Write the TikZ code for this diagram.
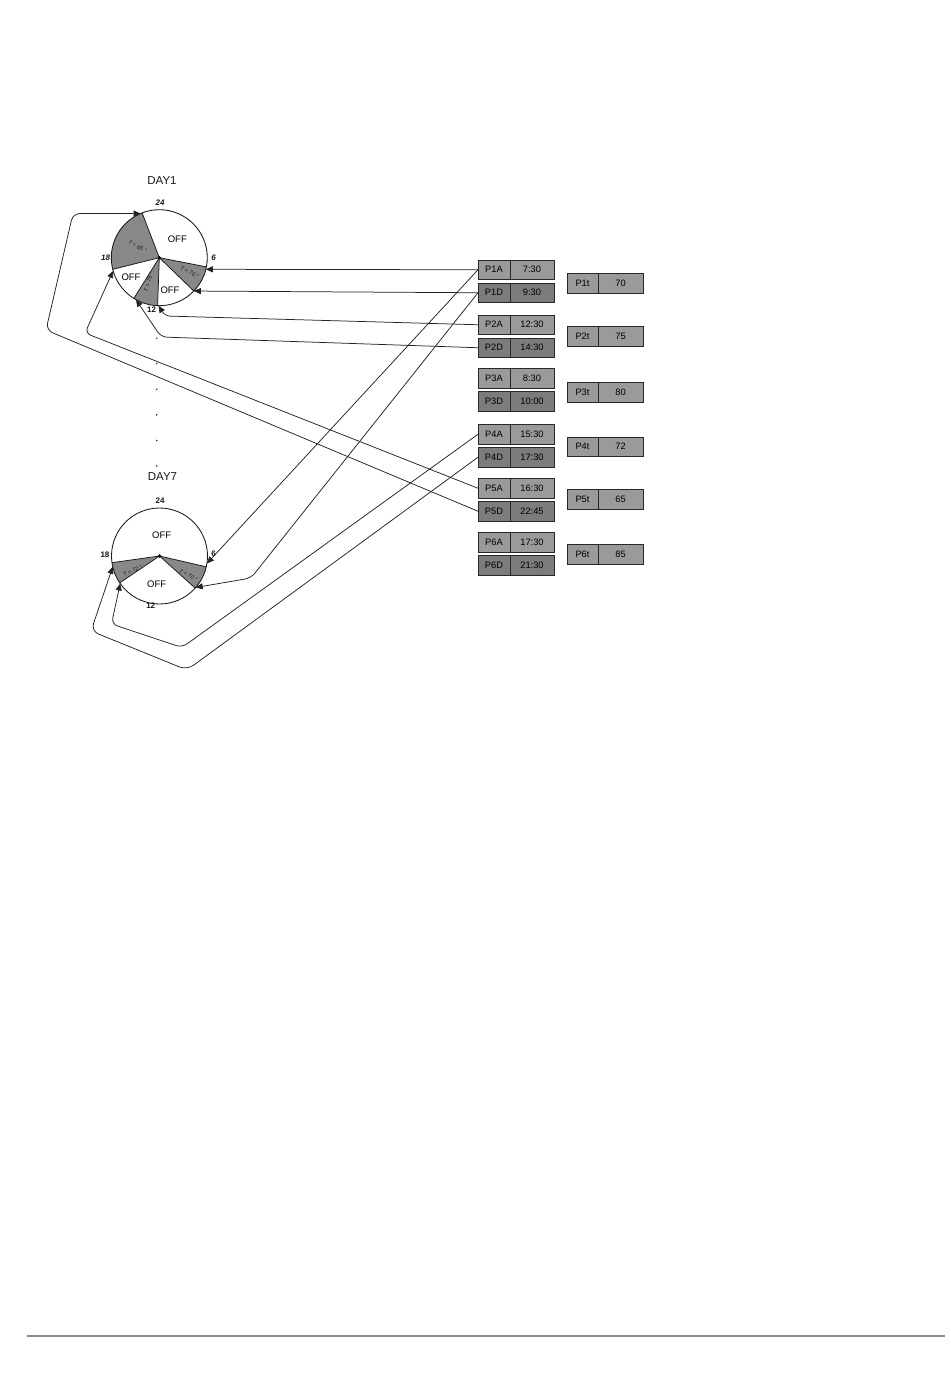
\documentclass[tikz,border=0pt]{standalone}
\usepackage{fontspec}
\setmainfont{Liberation Sans}
\usetikzlibrary{arrows.meta,calc}
\definecolor{boxA}{RGB}{154,154,154}
\definecolor{boxD}{RGB}{124,124,124}
\definecolor{wedgec}{RGB}{136,136,136}
\definecolor{edgec}{RGB}{40,40,40}
\definecolor{linec}{RGB}{35,35,35}
\definecolor{rulec}{RGB}{140,140,140}
\newcommand\mkpair[6]{% name, x, y, key, val, colour
  \node[keyc, fill=#6] (#1) at (#2,#3) {#4};
  \node[valc, fill=#6] (#1v) at ($(#1.north east)$) {#5};}
\newcommand\mktpair[5]{% name, y, key, val, colour
  \node[tkeyc, fill=#5] (#1) at (567,#2) {#3};
  \node[tvalc, fill=#5] (#1v) at ($(#1.north east)$) {#4};}
\begin{document}
\begin{tikzpicture}[x=1pt,y=-1pt,
  cell/.style={draw=edgec, line width=0.9pt, minimum height=19.5pt, inner sep=0pt,
    outer sep=0pt, anchor=north west, font=\fontsize{9.3}{10}\selectfont, text=black},
  keyc/.style={cell, minimum width=32pt},
  valc/.style={cell, minimum width=44pt},
  tkeyc/.style={cell, minimum width=31pt},
  tvalc/.style={cell, minimum width=45pt},
  dial/.style={circle, minimum size=96pt, inner sep=0pt, outer sep=0pt, draw=none},
  wedge/.style={fill=wedgec},
  wedgeedge/.style={draw=black!90, line width=0.75pt},
  rim/.style={draw=black!90, line width=0.85pt},
  offlab/.style={font=\fontsize{9.5}{10}\selectfont, text=black},
  tlab/.style={font=\fontsize{5.6}{6}\selectfont\itshape, text=black!90},
  hourlab/.style={font=\fontsize{8}{9}\selectfont\bfseries\itshape, text=black!90},
  hourup/.style={font=\fontsize{8}{9}\selectfont\bfseries, text=black!90},
  daylab/.style={font=\fontsize{11.5}{13}\selectfont, text=black!90},
  conn/.style={draw=linec, line width=0.75pt, -{Triangle[length=7pt,width=6pt]}},
  dotc/.style={fill=black!80}
]
\useasboundingbox[fill=white] (0,0) rectangle (950,1388);

% ---------- boxes ----------
\mkpair{p1a}{478}{260}{P1A}{7:30}{boxA}
\mkpair{p1d}{478}{283}{P1D}{9:30}{boxD}
\mkpair{p2a}{478}{315}{P2A}{12:30}{boxA}
\mkpair{p2d}{478}{338}{P2D}{14:30}{boxD}
\mkpair{p3a}{478}{368.5}{P3A}{8:30}{boxA}
\mkpair{p3d}{478}{391.5}{P3D}{10:00}{boxD}
\mkpair{p4a}{478}{424.5}{P4A}{15:30}{boxA}
\mkpair{p4d}{478}{447.5}{P4D}{17:30}{boxD}
\mkpair{p5a}{478}{478.5}{P5A}{16:30}{boxA}
\mkpair{p5d}{478}{501.5}{P5D}{22:45}{boxD}
\mkpair{p6a}{478}{532.5}{P6A}{17:30}{boxA}
\mkpair{p6d}{478}{555.5}{P6D}{21:30}{boxD}

\mktpair{p1t}{273.5}{P1t}{70}{boxA}
\mktpair{p2t}{326.5}{P2t}{75}{boxA}
\mktpair{p3t}{382.5}{P3t}{80}{boxA}
\mktpair{p4t}{437}{P4t}{72}{boxA}
\mktpair{p5t}{489.5}{P5t}{65}{boxA}
\mktpair{p6t}{544.5}{P6t}{85}{boxA}

% ---------- DAY1 dial ----------
\node[dial] (d1) at (159.3,257.7) {};
\begin{scope}
  \clip (d1.center) circle[radius=48];
  \fill[wedge] (d1.center) -- ($(d1.center)!2!(d1.194)$) -- ($(d1.center)!2!(d1.111.6)$) -- cycle;
  \fill[wedge] (d1.center) -- ($(d1.center)!2!(d1.-11.9)$) -- ($(d1.center)!2!(d1.-44.4)$) -- cycle;
  \fill[wedge] (d1.center) -- ($(d1.center)!2!(d1.-92.8)$) -- ($(d1.center)!2!(d1.-122.8)$) -- cycle;
\end{scope}
\foreach \a in {194,111.6,-11.9,-44.4,-92.8,-122.8}
  \draw[wedgeedge] (d1.center) -- (d1.\a);
\draw[rim] (d1.center) circle[radius=48];
\fill[black] (d1.center) circle[radius=1.8];

\node[daylab] (day1) at (162,181) {DAY1};
\node[hourlab] (d1h24) at (160,203) {24};
\node[hourlab] (d1h6) at (213.5,257.5) {6};
\node[hourlab] (d1h18) at (105.5,257.5) {18};
\node[hourup] (d1h12) at (151.5,310) {12};
\node[offlab] (d1off1) at (177.3,239.3) {OFF};
\node[offlab] (d1off2) at (131,277.3) {OFF};
\node[offlab] (d1off3) at (170,290.5) {OFF};
\node[tlab, rotate=-28] (d1t65) at (137.5,246.5) {T = 65 °};
\node[tlab, rotate=-27] (d1t70) at (189.5,272) {T = 70 °};
\node[tlab, rotate=73] (d1t75) at (148.5,282) {T = 75 °};

% ---------- DAY7 dial ----------
\node[dial] (d7) at (159.5,556) {};
\begin{scope}
  \clip (d7.center) circle[radius=48];
  \fill[wedge] (d7.center) -- ($(d7.center)!2!(d7.188.2)$) -- ($(d7.center)!2!(d7.214.7)$) -- cycle;
  \fill[wedge] (d7.center) -- ($(d7.center)!2!(d7.-13)$) -- ($(d7.center)!2!(d7.-42.8)$) -- cycle;
\end{scope}
\foreach \a in {188.2,214.7,-13,-42.8}
  \draw[wedgeedge] (d7.center) -- (d7.\a);
\draw[rim] (d7.center) circle[radius=48];
\fill[black] (d7.center) circle[radius=1.8];

\node[daylab] (day7) at (162.5,477) {DAY7};
\node[hourup] (d7h24) at (160,500.5) {24};
\node[hourup] (d7h6) at (213.5,554) {6};
\node[hourup] (d7h18) at (105,555) {18};
\node[hourup] (d7h12) at (150.7,606) {12};
\node[offlab] (d7off1) at (161.7,535.5) {OFF};
\node[offlab] (d7off2) at (156.7,584) {OFF};
\node[tlab, rotate=21] (d7t72) at (132.7,570.7) {T = 72 °};
\node[tlab, rotate=-28] (d7t70) at (188.3,575) {T = 70 °};

% ---------- dots between days ----------
\foreach \y in {338.3,363.5,389.2,414.8,440.5,466}
  \fill[dotc] (156.7,\y) circle[radius=0.9];

% ---------- connectors ----------
\draw[conn] (p1a.west) -- (d1.-14);
\draw[conn] (p1d.west) -- (d1.-44);
\draw[conn, rounded corners=5pt] (p2a.west) -- (165,316) -- (d1.-91);
\draw[conn, rounded corners=6pt] (p2d.west) -- (161,337) -- (d1.-119);
\draw[conn, rounded corners=6pt] (p5a.west) -- (85,333) -- (d1.196);
\draw[conn, rounded corners=7pt] (p5d.west) -- (46,330) -- (73,213.5) -- (d1.113);

\draw[conn] (p1a.west) -- (d7.-9);
\draw[conn, rounded corners=6pt] (p1d.west) -- (251,578) -- (d7.-41);
\draw[conn, rounded corners=6pt] (p4a.west) -- (182,647.5) -- (111.5,624) -- (d7.215);
\draw[conn, rounded corners=8pt] (p4d.west) -- (187,670) -- (91,631) -- (d7.193);

% ---------- bottom rule ----------
\draw[rulec, line width=1.2pt] (27,1336) -- (945,1336);
\end{tikzpicture}
\end{document}
